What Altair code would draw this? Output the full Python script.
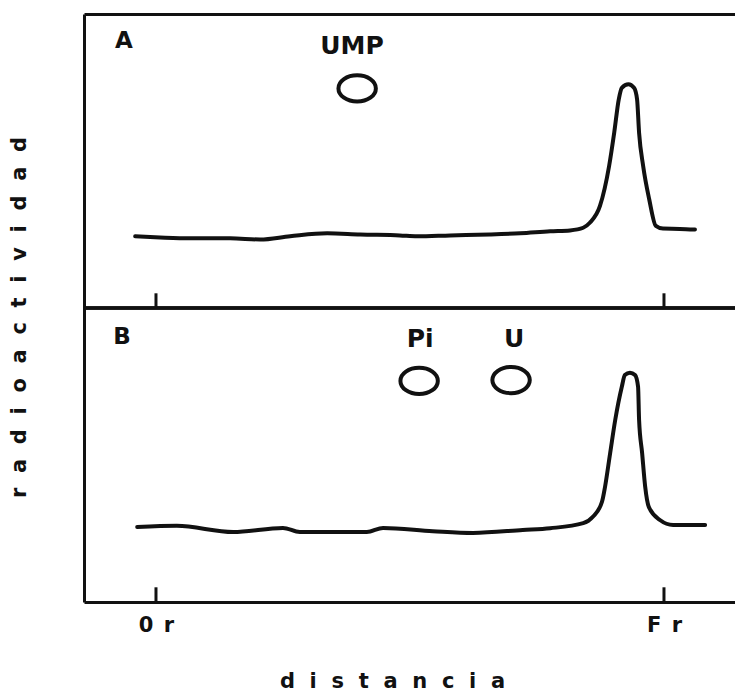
import altair as alt
import pandas as pd

# Radiochromatogram scans. Distance: origin (Or) = 0, solvent front (Fr) = 1.
# Radioactivity in arbitrary units (0-100 within each panel).
dist_a = [-0.041, 0.008, 0.067, 0.146, 0.205, 0.264, 0.337, 0.402, 0.480, 0.514,
          0.579, 0.657, 0.717, 0.776, 0.815, 0.841, 0.854, 0.874, 0.892, 0.902,
          0.911, 0.917, 0.930, 0.941, 0.947, 0.951, 0.959, 0.971, 0.984, 0.998,
          1.031, 1.061]
act_a = [24.4, 24.0, 23.7, 23.7, 23.3, 24.4, 25.4, 25.0, 24.7, 24.4,
         24.7, 25.0, 25.4, 26.1, 26.4, 27.3, 29.0, 34.7, 48.3, 59.6,
         71.0, 74.9, 76.1, 74.9, 71.0, 59.6, 48.3, 36.9, 27.9, 27.0,
         26.9, 26.7]

dist_b = [-0.037, 0.041, 0.152, 0.250, 0.283, 0.415, 0.447, 0.545, 0.624, 0.722,
          0.776, 0.841, 0.860, 0.878, 0.884, 0.894, 0.904, 0.917, 0.923, 0.933,
          0.943, 0.949, 0.951, 0.957, 0.963, 0.970, 0.992, 1.018, 1.081]
act_b = [25.5, 25.9, 23.8, 25.2, 23.8, 23.8, 25.2, 24.1, 23.5, 24.5,
         25.1, 26.8, 29.0, 34.1, 39.2, 50.6, 61.9, 73.2, 77.2, 78.0,
         77.2, 73.2, 61.9, 50.6, 39.2, 32.4, 27.9, 26.2, 26.2]

# Reference spots run alongside
spot_names = ["UMP", "Pi", "U"]
spot_panel = ["A", "B", "B"]
spot_dist = [0.396, 0.518, 0.699]
spot_act = [74.7, 75.2, 75.5]
spot_label_dist = [0.386, 0.520, 0.705]
spot_label_act = [89.1, 89.5, 89.5]

# Panel letters
panel_names = ["A", "B"]
panel_label_dist = [-0.063, -0.067]
panel_label_act = [90.7, 90.1]

# Distance axis marks
tick_positions = [0, 1]
tick_labels = ["0r", "Fr"]

x_title = "distancia"
y_title = "radioactividad"

# Panel A is stacked above panel B on one shared vertical scale
panel_offset = {"A": 100, "B": 0}
tick_len = 5

FONT = "DejaVu Sans"
INK = "#111111"


def spaced(word, sep="\u2002\u2009"):
    return sep.join(word)


curves = pd.concat([
    pd.DataFrame({"panel": "A", "dist": dist_a, "act": act_a}),
    pd.DataFrame({"panel": "B", "dist": dist_b, "act": act_b}),
])
curves["y"] = curves["act"] + curves["panel"].map(panel_offset)

spots = pd.DataFrame({"name": spot_names, "panel": spot_panel,
                      "dist": spot_dist, "act": spot_act,
                      "ldist": spot_label_dist, "lact": spot_label_act})
spots["y"] = spots["act"] + spots["panel"].map(panel_offset)
spots["ly"] = spots["lact"] + spots["panel"].map(panel_offset)

panels = pd.DataFrame({"name": panel_names, "dist": panel_label_dist,
                       "act": panel_label_act})
panels["y"] = panels["act"] + panels["name"].map(panel_offset)

ticks = pd.DataFrame([
    {"pos": p, "y0": off, "y1": off + tick_len}
    for off in panel_offset.values() for p in tick_positions
])

x_scale = alt.Scale(domain=[-0.1417, 1.1398], nice=False, zero=False)
y_scale = alt.Scale(domain=[0, 200], nice=False, zero=False)

label_js = "[" + ",".join("'" + spaced(t, "\u2002") + "'" for t in tick_labels) + "]"

x_axis_bottom = alt.Axis(
    values=tick_positions, labelExpr=f"{label_js}[datum.value]",
    ticks=False, tickSize=0, grid=False, domain=True,
    labelPadding=12, labelFontSize=21, labelFontWeight="bold",
    labelFont=FONT, labelColor=INK, labelAngle=0,
    title=spaced(x_title), titleFont=FONT, titleFontSize=21,
    titleFontWeight="bold", titleColor=INK, titleX=308, titleY=85,
    titleAlign="center", titleBaseline="alphabetic", titleAnchor="start",
)
x_axis_top = alt.Axis(orient="top", labels=False, ticks=False, grid=False,
                      domain=True, title=None)
y_axis = alt.Axis(
    labels=False, ticks=False, grid=False, domain=True,
    title=spaced(y_title), titleFont=FONT, titleFontSize=21,
    titleFontWeight="bold", titleColor=INK, titleAngle=270,
    titleX=-65, titleY=303, titleAlign="center", titleBaseline="middle",
    titleAnchor="start",
)

line = alt.Chart(curves).mark_line(
    color=INK, strokeWidth=4, interpolate="monotone",
    strokeJoin="round", strokeCap="round",
).encode(
    x=alt.X("dist:Q", scale=x_scale, axis=x_axis_bottom),
    y=alt.Y("y:Q", scale=y_scale, axis=y_axis),
    detail="panel:N",
)

tick_marks = alt.Chart(ticks).mark_rule(color=INK, strokeWidth=3).encode(
    x=alt.X("pos:Q", scale=x_scale, axis=x_axis_top),
    y=alt.Y("y0:Q", scale=y_scale, axis=y_axis),
    y2="y1:Q",
)

divider = alt.Chart(ticks).mark_rule(color=INK, strokeWidth=3).encode(
    y=alt.Y(datum=panel_offset["A"], scale=y_scale, axis=y_axis),
)

ellipse = "M-1,0A1,0.7,0,1,1,1,0A1,0.7,0,1,1,-1,0Z"
spot_marks = alt.Chart(spots).mark_point(
    shape=ellipse, filled=False, stroke=INK, strokeWidth=4, size=1400,
    opacity=1,
).encode(
    x=alt.X("dist:Q", scale=x_scale, axis=None),
    y=alt.Y("y:Q", scale=y_scale, axis=y_axis),
)

spot_text = alt.Chart(spots).mark_text(
    font=FONT, fontSize=25, fontWeight="bold", color=INK,
    align="center", baseline="middle",
).encode(
    x=alt.X("ldist:Q", scale=x_scale, axis=None),
    y=alt.Y("ly:Q", scale=y_scale, axis=y_axis),
    text="name:N",
)

panel_text = alt.Chart(panels).mark_text(
    font=FONT, fontSize=23, fontWeight="bold", color=INK,
    align="center", baseline="middle",
).encode(
    x=alt.X("dist:Q", scale=x_scale, axis=None),
    y=alt.Y("y:Q", scale=y_scale, axis=y_axis),
    text="name:N",
)

chart = alt.layer(
    line, tick_marks, divider, spot_marks, spot_text, panel_text
).resolve_axis(x="independent").properties(
    width=651, height=588,
    autosize=alt.AutoSizeParams(type="none"),
    padding={"left": 84, "top": 14, "right": 0, "bottom": 90},
    background="white",
).configure_view(stroke=None).configure_axis(
    domainColor=INK, domainWidth=3,
)

chart.save("out.html", embed_options={"renderer": "svg", "actions": False})
